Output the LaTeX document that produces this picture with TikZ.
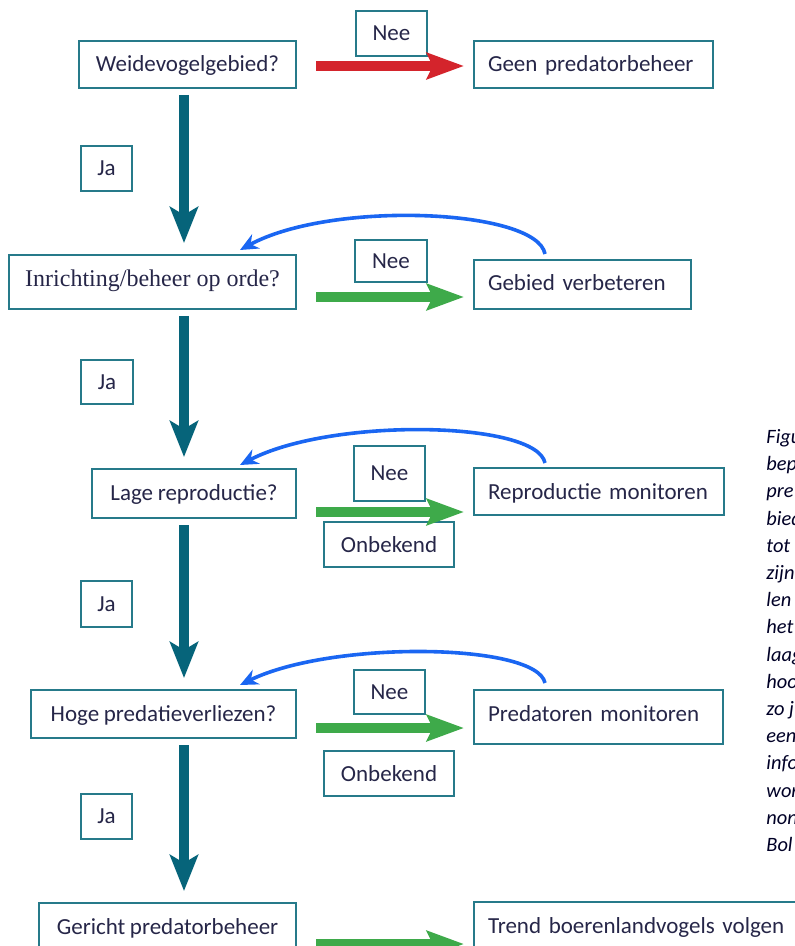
\documentclass[tikz,border=0pt]{standalone}
\usepackage{fontspec}
\setmainfont{Carlito}
\newfontfamily\serifbox{Liberation Serif}
\usepackage{xcolor}
\usepackage{tikz}
\usetikzlibrary{arrows.meta,calc,positioning}

\definecolor{boxteal}{RGB}{38,122,138}
\definecolor{arrowteal}{RGB}{6,100,122}
\definecolor{nored}{RGB}{212,36,44}
\definecolor{gogreen}{RGB}{62,170,74}
\definecolor{loopblue}{RGB}{26,102,242}
\definecolor{inktext}{RGB}{38,38,72}
\newcommand{\boxfont}{\fontsize{11.5}{13}\selectfont\spaceskip=0.2em\relax}

\begin{document}
\begin{tikzpicture}[x=0.5pt,y=-0.5pt,
    qbox/.style={draw=boxteal,line width=1pt,text=inktext,font=\boxfont,
        anchor=north west,inner sep=0pt,text height=15.5pt},
    abox/.style={qbox,inner xsep=7pt,align=left},
    lbl/.style={draw=boxteal,line width=1pt,text=inktext,font=\boxfont,
        anchor=north west,inner sep=0pt},
    downarrow/.style={arrowteal,line width=5pt,-{Stealth[length=18pt,width=14pt,inset=4pt]},
        shorten <=3pt,shorten >=5.5pt},
    sidearrow/.style={line width=5pt,-{Stealth[length=18.5pt,width=13pt,inset=3pt]},
        shorten <=9.5pt,shorten >=4.5pt},
    backarrow/.style={loopblue,line width=1.8pt,-{Stealth[length=9pt,width=8pt]}}]
    \useasboundingbox (0,0) rectangle (795,946);
    \clip (0,0) rectangle (795,946);
    \coordinate (spine) at (184,0);

    % vragen (links)
    \node[qbox,minimum width=108.5pt,text depth=8pt] (q1) at (78,40) {Weidevogelgebied?};
    \node[qbox,minimum width=143.5pt,text depth=11.5pt,font=\serifbox\fontsize{12}{13}\selectfont] (q2) at (8,254) {Inrichting/beheer op orde?};
    \node[qbox,minimum width=102pt,text depth=9pt] (q3) at (91,468) {Lage reproductie?};
    \node[qbox,minimum width=132.5pt,text depth=8.5pt] (q4) at (30,689) {Hoge predatieverliezen?};
    \node[qbox,minimum width=128.5pt,text depth=14.5pt] (q5) at (38,902) {Gericht predatorbeheer};

    % acties (rechts)
    \node[abox,text width=105.5pt,text depth=8pt] (r1) at (473,40) {Geen predatorbeheer};
    \node[abox,text width=94.5pt,text depth=9pt] (r2) at (473,259) {Gebied verbeteren};
    \node[abox,text width=111pt,text depth=8pt] (r3) at (473,467) {Reproductie monitoren};
    \node[abox,text width=110.5pt,text depth=11.5pt] (r4) at (473,689) {Predatoren monitoren};
    \node[abox,text width=156pt,text depth=14.5pt] (r5) at (473,901) {Trend boerenlandvogels volgen};

    % labels
    \node[lbl,minimum width=35.5pt,minimum height=22.5pt] (nee1) at (355,10) {Nee};
    \node[lbl,minimum width=36pt,minimum height=21pt] (nee2) at (354,239) {Nee};
    \node[lbl,minimum width=35.5pt,minimum height=27.5pt] (nee3) at (353,445) {Nee};
    \node[lbl,minimum width=35.5pt,minimum height=22pt] (nee4) at (353,669) {Nee};
    \node[lbl,minimum width=65pt,minimum height=22.5pt] (onb3) at (323,521) {Onbekend};
    \node[lbl,minimum width=65pt,minimum height=22.5pt] (onb4) at (323,750) {Onbekend};
    \node[lbl,minimum width=25.5pt,minimum height=22.5pt] (ja1) at (80,145) {Ja};
    \node[lbl,minimum width=26pt,minimum height=22pt] (ja2) at (80,359) {Ja};
    \node[lbl,minimum width=25.5pt,minimum height=23pt] (ja3) at (80,580) {Ja};
    \node[lbl,minimum width=25.5pt,minimum height=22.5pt] (ja4) at (80,793) {Ja};

    % ja-pijlen
    \draw[downarrow] (q1.south -| spine) -- (q2.north -| spine);
    \draw[downarrow] (q2.south -| spine) -- (q3.north -| spine);
    \draw[downarrow] (q3.south -| spine) -- (q4.north -| spine);
    \draw[downarrow] (q4.south -| spine) -- (q5.north -| spine);

    % nee-pijlen
    \draw[sidearrow,nored] ([yshift=-0.75pt]q1.east) -- ([yshift=-0.75pt]q1.east -| r1.west);
    \draw[sidearrow,gogreen] ([yshift=-7.5pt]q2.east) -- ([yshift=-7.5pt]q2.east -| r2.west);
    \draw[sidearrow,gogreen] ([yshift=-9.25pt]q3.east) -- ([yshift=-9.25pt]q3.east -| r3.west);
    \draw[sidearrow,gogreen] ([yshift=-7pt]q4.east) -- ([yshift=-7pt]q4.east -| r4.west);
    \draw[sidearrow,gogreen] ([yshift=-5.5pt]q5.east) -- ([yshift=-5.5pt]q5.east -| r5.west);

    % terugkoppeling
    \draw[backarrow] ([shift={(72,-5)}]r2.north west) .. controls +(-8,-45) and +(92,-50) .. ([shift={(-57,-4)}]q2.north east);
    \draw[backarrow] ([shift={(72,-4)}]r3.north west) .. controls +(-8,-42) and +(92,-48) .. ([shift={(-57,-3)}]q3.north east);
    \draw[backarrow] ([shift={(72,-6)}]r4.north west) .. controls +(-8,-40) and +(92,-45) .. ([shift={(-57,-4)}]q4.north east);

    % bijschrift (afgesneden)
    \node[anchor=north west,inner sep=0pt,align=left,text=black!85!blue,
        font=\itshape\fontsize{10.2}{13.6}\selectfont] (capt) at (766,429)
        {Figu\\bep\\pre\\bied\\tot\\zijn\\len\\het\\laag\\hoo\\zo j\\een\\info\\wor\\non\\Bol};
\end{tikzpicture}
\end{document}
